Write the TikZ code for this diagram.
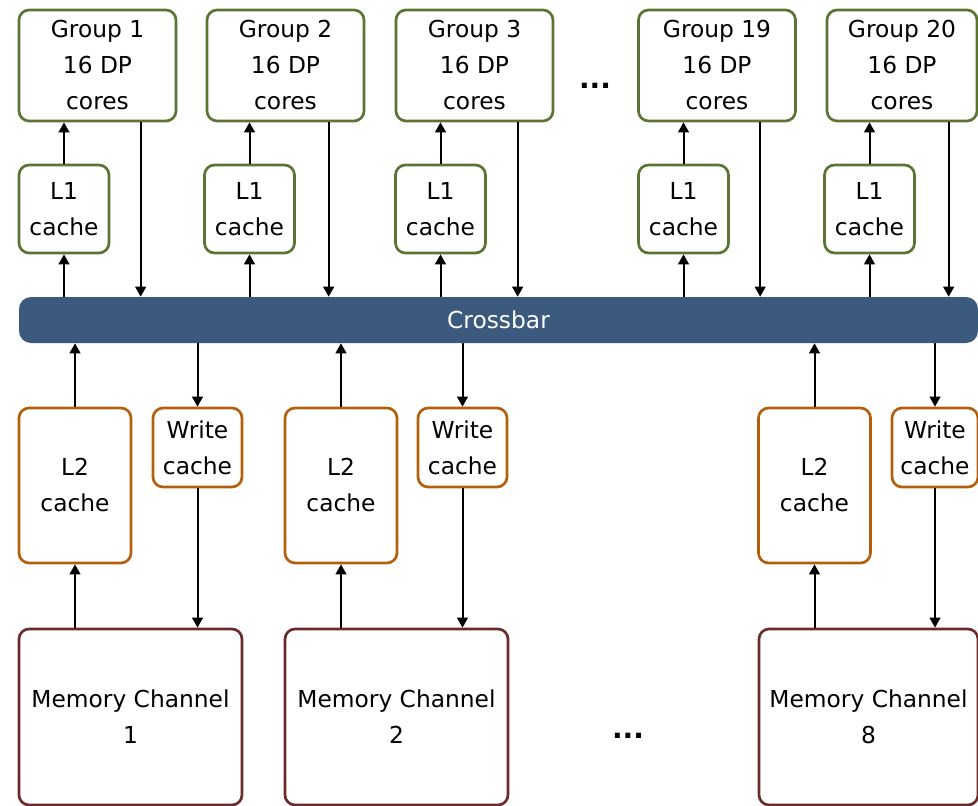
\documentclass[tikz,border=0pt]{standalone}
\usepackage{fontspec}
\setmainfont{DejaVu Sans}
\usetikzlibrary{arrows.meta,calc}

\definecolor{grpgreen}{HTML}{5B7333}
\definecolor{cacheorange}{HTML}{B45F0C}
\definecolor{memred}{HTML}{6B2B2B}
\definecolor{barblue}{HTML}{3C5A7E}

\begin{document}
\begin{tikzpicture}[x=0.75pt,y=-0.75pt,
  box/.style={draw,rounded corners=7.5pt,line width=2pt,align=center,inner sep=0pt,
    font=\fontsize{17.5}{27}\selectfont},
  grp/.style={box,draw=grpgreen,minimum width=117.75pt,minimum height=83.25pt},
  lone/.style={box,draw=grpgreen,minimum width=67.5pt,minimum height=66pt},
  ltwo/.style={box,draw=cacheorange,minimum width=84pt,minimum height=116.25pt},
  wcache/.style={box,draw=cacheorange,minimum width=66.75pt,minimum height=59.25pt},
  mem/.style={box,draw=memred,minimum width=167.25pt,minimum height=132pt},
  dots/.style={font=\fontsize{21}{27}\selectfont\bfseries},
  arr/.style={-{Triangle[length=7.5pt,width=8pt]},line width=1.5pt}]
  \useasboundingbox (0,0) rectangle (978,806);

  % processor groups
  \node[grp] (g1) at (97.5,65.5) {Group 1\\16 DP\\cores};
  \node[grp] (g2) at (285.5,65.5) {Group 2\\16 DP\\cores};
  \node[grp] (g3) at (474.5,65.5) {Group 3\\16 DP\\cores};
  \node[grp] (g19) at (717,65.5) {Group 19\\16 DP\\cores};
  \node[grp,minimum width=112.5pt] (g20) at (902,65.5) {Group 20\\16 DP\\cores};
  \node[dots] (dtop) at (595,86) {...};

  % L1 caches
  \node[lone] (c1) at (64,209) {L1\\cache};
  \node[lone] (c2) at (249.5,209) {L1\\cache};
  \node[lone] (c3) at (440.5,209) {L1\\cache};
  \node[lone] (c19) at (683.5,209) {L1\\cache};
  \node[lone] (c20) at (869.5,209) {L1\\cache};

  % crossbar
  \node[fill=barblue,rounded corners=9pt,minimum width=719.25pt,minimum height=34.5pt,
    inner sep=0pt,text=white,font=\fontsize{17.5}{21}\selectfont] (bar) at (498.5,320) {Crossbar};

  % L2 and write caches
  \node[ltwo] (l2a) at (75,485.5) {L2\\cache};
  \node[ltwo] (l2b) at (341,485.5) {L2\\cache};
  \node[ltwo] (l2c) at (814.5,485.5) {L2\\cache};
  \node[wcache] (wa) at (197.5,447.5) {Write\\cache};
  \node[wcache] (wb) at (462.5,447.5) {Write\\cache};
  \node[wcache,minimum width=64.5pt] (wc) at (935,447.5) {Write\\cache};

  % memory channels
  \node[mem] (ma) at (130.5,717) {Memory Channel\\1};
  \node[mem] (mb) at (396.5,717) {Memory Channel\\2};
  \node[mem,minimum width=164.25pt] (mc) at (868.5,717) {Memory Channel\\8};
  \node[dots] (dbot) at (628,736) {...};

  % connectors, upper half
  \foreach \g/\c in {g1/c1,g2/c2,g3/c3,g19/c19,g20/c20} {
    \draw[arr] (\c.north) -- (\c.north |- \g.south);
    \draw[arr] (\c.north |- bar.north) -- (\c.south);
    \coordinate (d\g) at ($(\g.south west)+(123,0)$);
    \draw[arr] (d\g) -- (d\g |- bar.north);
  }

  % connectors, lower half
  \foreach \l/\w/\m in {l2a/wa/ma,l2b/wb/mb,l2c/wc/mc} {
    \draw[arr] (\l.north) -- (\l.north |- bar.south);
    \draw[arr] (\w.north |- bar.south) -- (\w.north);
    \draw[arr] (\l.south |- \m.north) -- (\l.south);
    \draw[arr] (\w.south) -- (\w.south |- \m.north);
  }
\end{tikzpicture}
\end{document}
